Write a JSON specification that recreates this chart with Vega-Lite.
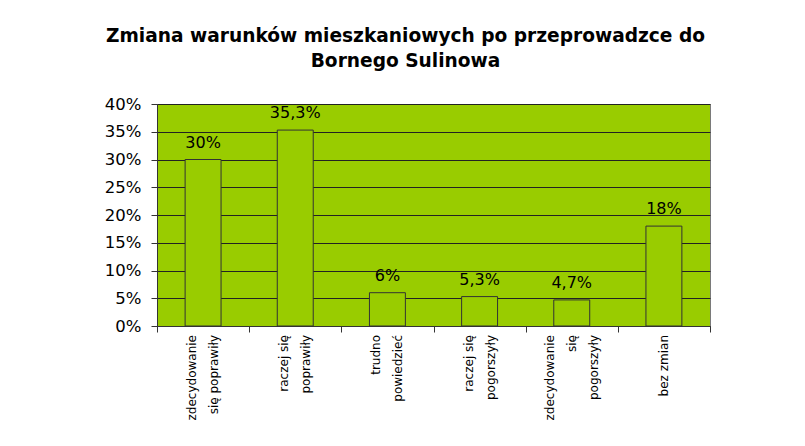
{
  "$schema": "https://vega.github.io/schema/vega-lite/v6.json",
  "width": 553,
  "height": 222,
  "autosize": {"type": "none"},
  "padding": {"left": 157, "top": 104, "right": 95, "bottom": 120},
  "background": "white",
  "config": {
    "locale": {"number": {"decimal": ",", "thousands": " ", "grouping": [3], "currency": ["", " zł"]}},
    "view": {"fill": "#99CC00", "stroke": "#7a7a7a", "strokeWidth": 1},
    "font": "DejaVu Sans"
  },
  "title": {
    "text": ["Zmiana warunków mieszkaniowych po przeprowadzce do", "Bornego Sulinowa"],
    "font": "DejaVu Sans",
    "fontSize": 18.6,
    "fontWeight": "bold",
    "color": "black",
    "lineHeight": 25,
    "anchor": "middle",
    "frame": "group",
    "dx": -28,
    "offset": 25
  },
  "data": {
    "values": [
      {"kategoria": "zdecydowanie się poprawiły", "linie": ["zdecydowanie", "się poprawiły"], "udzial": 0.30},
      {"kategoria": "raczej się poprawiły", "linie": ["raczej się", "poprawiły"], "udzial": 0.353},
      {"kategoria": "trudno powiedzieć", "linie": ["trudno", "powiedzieć"], "udzial": 0.06},
      {"kategoria": "raczej się pogorszyły", "linie": ["raczej się", "pogorszyły"], "udzial": 0.053},
      {"kategoria": "zdecydowanie się pogorszyły", "linie": ["zdecydowanie", "się", "pogorszyły"], "udzial": 0.047},
      {"kategoria": "bez zmian", "linie": ["bez zmian"], "udzial": 0.18}
    ]
  },
  "encoding": {
    "x": {
      "field": "kategoria",
      "type": "nominal",
      "sort": null,
      "scale": {"paddingInner": 0, "paddingOuter": 0},
      "axis": {
        "title": null,
        "labels": false,
        "tickBand": "extent",
        "tickSize": 6,
        "tickColor": "#333333",
        "domainColor": "#333333",
        "grid": false
      }
    },
    "y": {
      "field": "udzial",
      "type": "quantitative",
      "scale": {"domain": [0, 0.4], "nice": false},
      "axis": {
        "title": null,
        "values": [0, 0.05, 0.1, 0.15, 0.2, 0.25, 0.3, 0.35, 0.4],
        "format": ".0%",
        "labelFont": "DejaVu Sans",
        "labelFontSize": 16.5,
        "labelColor": "black",
        "labelPadding": 10,
        "tickSize": 6,
        "tickColor": "#333333",
        "domainColor": "#333333",
        "grid": true,
        "gridColor": "#222222",
        "gridWidth": 1,
        "gridOpacity": 1
      }
    }
  },
  "layer": [
    {
      "mark": {"type": "bar", "fill": "#99CC00", "stroke": "#333333", "strokeWidth": 1, "width": {"band": 0.39}}
    },
    {
      "mark": {"type": "text", "font": "DejaVu Sans", "fontSize": 16, "color": "black", "baseline": "alphabetic", "dy": -12},
      "encoding": {
        "text": {"field": "udzial", "type": "quantitative", "format": ".1~%"}
      }
    },
    {
      "mark": {
        "type": "text",
        "angle": 270,
        "align": "right",
        "baseline": "middle",
        "font": "DejaVu Sans",
        "fontSize": 12,
        "lineHeight": 22,
        "color": "black",
        "dx": -9,
        "dy": {"expr": "-(length(datum.linie) - 1) * 11"}
      },
      "encoding": {
        "y": {"datum": 0},
        "text": {"field": "linie", "type": "nominal"}
      }
    }
  ]
}
